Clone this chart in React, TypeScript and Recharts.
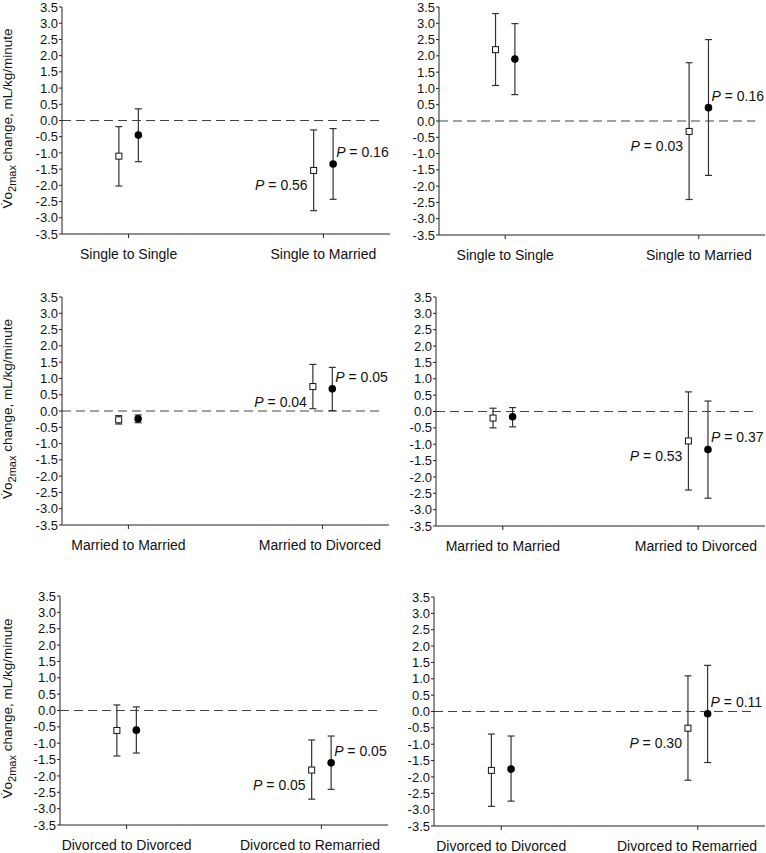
import React from "react";
import {
  ErrorBar,
  ReferenceLine,
  Scatter,
  ScatterChart,
  XAxis,
  YAxis,
} from "recharts";

// one row per panel: top-left, top-right, middle-left, middle-right, bottom-left, bottom-right
const panelCategories = [
  ["Single to Single", "Single to Married"],
  ["Single to Single", "Single to Married"],
  ["Married to Married", "Married to Divorced"],
  ["Married to Married", "Married to Divorced"],
  ["Divorced to Divorced", "Divorced to Remarried"],
  ["Divorced to Divorced", "Divorced to Remarried"],
];

// open squares
const openMean = [
  [-1.1, -1.54],
  [2.19, -0.32],
  [-0.27, 0.75],
  [-0.2, -0.9],
  [-0.61, -1.82],
  [-1.8, -0.51],
];
const openLow = [
  [-2.02, -2.78],
  [1.09, -2.41],
  [-0.4, 0.07],
  [-0.5, -2.4],
  [-1.39, -2.71],
  [-2.9, -2.1],
];
const openHigh = [
  [-0.19, -0.29],
  [3.3, 1.79],
  [-0.14, 1.43],
  [0.1, 0.6],
  [0.17, -0.9],
  [-0.69, 1.09],
];

// filled circles
const filledMean = [
  [-0.45, -1.34],
  [1.9, 0.41],
  [-0.24, 0.68],
  [-0.16, -1.16],
  [-0.6, -1.6],
  [-1.76, -0.07],
];
const filledLow = [
  [-1.27, -2.43],
  [0.81, -1.67],
  [-0.36, 0.01],
  [-0.47, -2.65],
  [-1.3, -2.41],
  [-2.74, -1.56],
];
const filledHigh = [
  [0.36, -0.25],
  [2.99, 2.5],
  [-0.12, 1.34],
  [0.12, 0.32],
  [0.11, -0.78],
  [-0.75, 1.41],
];

const openP = [
  [null, "0.56"],
  [null, "0.03"],
  [null, "0.04"],
  [null, "0.53"],
  [null, "0.05"],
  [null, "0.30"],
];
const filledP = [
  [null, "0.16"],
  [null, "0.16"],
  [null, "0.05"],
  [null, "0.37"],
  [null, "0.05"],
  [null, "0.11"],
];

const yTicks = [3.5, 3.0, 2.5, 2.0, 1.5, 1.0, 0.5, 0.0, -0.5, -1.0, -1.5, -2.0, -2.5, -3.0, -3.5];

const font = '"Liberation Sans", Arial, sans-serif';
const xMin = -0.342;
const xMax = 1.342;
const shift = 0.05;

const boxes = [
  { left: 0, top: 0, axisW: 62, plotTop: 7, plotH: 227, width: 391, yLabel: true },
  { left: 383, top: 0, axisW: 56, plotTop: 7, plotH: 228, width: 383, yLabel: false },
  { left: 0, top: 285, axisW: 62, plotTop: 12, plotH: 228, width: 390, yLabel: true },
  { left: 383, top: 285, axisW: 53, plotTop: 12, plotH: 229, width: 383, yLabel: false },
  { left: 0, top: 570, axisW: 60, plotTop: 26, plotH: 229, width: 389, yLabel: true },
  { left: 383, top: 570, axisW: 51, plotTop: 27, plotH: 229, width: 383, yLabel: false },
];

let measureCtx: any = null;
function textWidth(s: string) {
  if (!measureCtx) {
    measureCtx = document.createElement("canvas").getContext("2d");
  }
  measureCtx.font = '14px "Liberation Sans", Arial, sans-serif';
  return measureCtx.measureText(s).width;
}

function PText({ x, y, anchor, p }: any) {
  return (
    <text x={x} y={y} textAnchor={anchor} fontSize={14} fontFamily={font} fill="#111">
      <tspan fontStyle="italic">P</tspan> = {p}
    </text>
  );
}

function OpenSquare(props: any) {
  const { cx, cy, payload } = props;
  return (
    <g>
      <rect x={cx - 3} y={cy - 3} width={6} height={6} fill="#fff" stroke="#111" strokeWidth={1} />
      {payload.p && <PText x={cx - 6} y={cy + 20} anchor="end" p={payload.p} />}
    </g>
  );
}

function FilledCircle(props: any) {
  const { cx, cy, payload } = props;
  return (
    <g>
      <circle cx={cx} cy={cy} r={3.8} fill="#000" />
      {payload.p && <PText x={cx + 3} y={cy - 7} anchor="start" p={payload.p} />}
    </g>
  );
}

function YLabel(props: any) {
  const vb = props.viewBox;
  const x = vb.x + 12;
  const y = vb.y + vb.height / 2 - 2;
  return (
    <text
      x={x}
      y={y}
      transform={`rotate(-90, ${x}, ${y})`}
      textAnchor="middle"
      fontSize={13.5}
      fontFamily={font}
      fill="#111"
    >
      {"V\u0307o"}
      <tspan fontSize={11} dy={4}>
        2max
      </tspan>
      <tspan dy={-4}> change, mL/kg/minute</tspan>
    </text>
  );
}

function Panel({ i }: { i: number }) {
  const b = boxes[i];
  const cats = panelCategories[i];
  const plotRight = b.width - 1;
  const openData = cats.map((_, k) => ({
    x: k - shift,
    y: openMean[i][k],
    err: [openMean[i][k] - openLow[i][k], openHigh[i][k] - openMean[i][k]],
    p: openP[i][k],
  }));
  const filledData = cats.map((_, k) => ({
    x: k + shift,
    y: filledMean[i][k],
    err: [filledMean[i][k] - filledLow[i][k], filledHigh[i][k] - filledMean[i][k]],
    p: filledP[i][k],
  }));
  const CatTick = (props: any) => {
    const { x, y, payload } = props;
    const label = cats[Math.round(payload.value)];
    const w = textWidth(label);
    let cx = x;
    if (cx + w / 2 > plotRight - 8) cx = plotRight - 8 - w / 2;
    return (
      <text x={cx} y={y} dy="0.71em" textAnchor="middle" fontSize={14} fontFamily={font} fill="#111">
        {label}
      </text>
    );
  };
  const h = b.plotTop + b.plotH + 40;
  return (
    <div style={{ position: "absolute", left: b.left, top: b.top }}>
      <ScatterChart
        width={b.width}
        height={h}
        margin={{ top: b.plotTop, right: 1, bottom: 0, left: 0 }}
      >
        <XAxis
          type="number"
          dataKey="x"
          domain={[xMin, xMax]}
          allowDataOverflow
          ticks={[0, 1]}
          interval={0}
          height={40}
          stroke="#222"
          tickSize={4}
          tickMargin={11}
          tick={CatTick}
        />
        <YAxis
          type="number"
          dataKey="y"
          domain={[-3.5, 3.5]}
          ticks={yTicks}
          interval={0}
          width={b.axisW}
          stroke="#222"
          tickSize={3}
          tickMargin={1}
          tickFormatter={(v: number) => v.toFixed(1)}
          tick={{ fontSize: 13, fontFamily: font, fill: "#111" }}
          label={b.yLabel ? { content: YLabel } : undefined}
        />
        <ReferenceLine
          segment={[
            { x: xMin, y: 0 },
            { x: xMax - 0.05, y: 0 },
          ]}
          stroke="#444"
          strokeDasharray="9 5"
        />
        <Scatter data={openData} shape={OpenSquare} isAnimationActive={false}>
          <ErrorBar dataKey="err" direction="y" width={3.5} stroke="#333" strokeWidth={1.2} />
        </Scatter>
        <Scatter data={filledData} shape={FilledCircle} isAnimationActive={false}>
          <ErrorBar dataKey="err" direction="y" width={3.5} stroke="#333" strokeWidth={1.2} />
        </Scatter>
      </ScatterChart>
    </div>
  );
}

export default function App() {
  return (
    <div
      style={{
        position: "absolute",
        left: 0,
        top: 0,
        width: 766,
        height: 853,
        overflow: "hidden",
        background: "#fff",
      }}
    >
      {boxes.map((_, i) => (
        <Panel key={i} i={i} />
      ))}
    </div>
  );
}
